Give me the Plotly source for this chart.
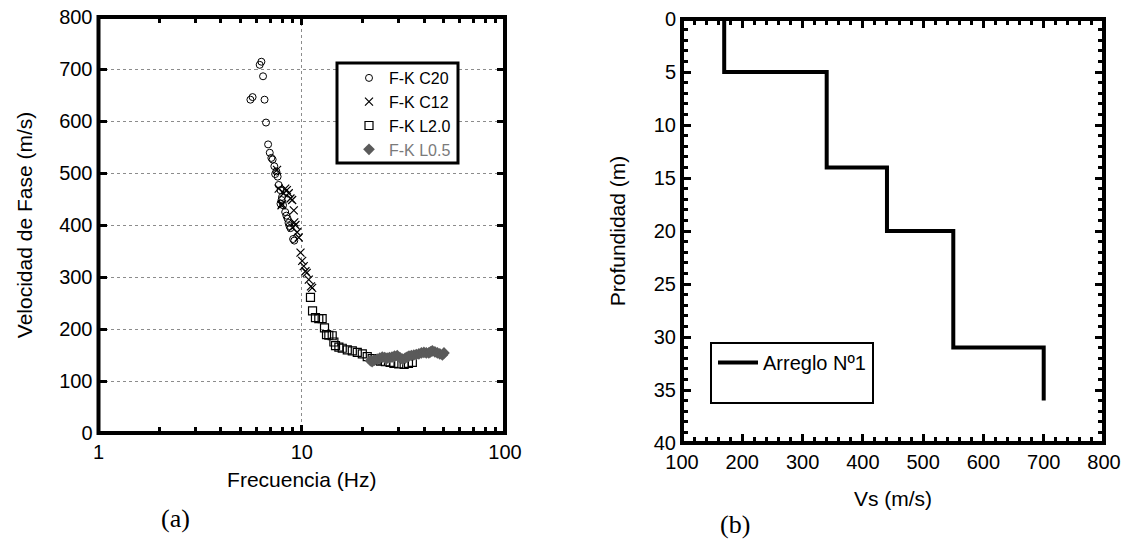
import plotly.graph_objects as go

# ---------------- data: dispersion curves (panel a) ----------------
c20_f = [5.59, 5.73, 6.21, 6.33, 6.45, 6.56, 6.67, 6.83, 6.96, 7.09, 7.19, 7.33, 7.50, 7.61,
         7.70, 7.86, 8.00, 7.86, 8.09, 8.29, 8.52, 8.61, 8.80, 9.07, 9.19, 7.40, 7.95, 8.40, 8.70]
c20_v = [641, 646, 708, 714, 686, 641, 597, 555, 539, 529, 526, 513, 503, 493,
         477, 467, 454, 441, 438, 425, 412, 404, 394, 373, 370, 498, 448, 418, 398]

c12_f = [7.56, 7.70, 7.95, 8.15, 8.29, 8.45, 8.63, 8.80, 8.97, 9.14, 9.19, 9.31, 9.49, 9.67,
         9.86, 10.05, 10.23, 10.43, 10.58, 10.83, 11.10, 11.25, 8.00, 9.00]
c12_v = [506, 470, 438, 461, 470, 467, 461, 451, 448, 428, 405, 400, 386, 376,
         347, 331, 321, 311, 308, 295, 282, 279, 440, 395]

l20_f = [11.04, 11.30, 11.68, 12.13, 12.60, 12.94, 13.24, 13.59, 14.12, 14.39, 14.66, 15.23,
         15.82, 16.75, 17.73, 18.76, 19.86, 21.0, 22.2, 23.5, 24.4, 25.8, 27.2, 28.4, 30.0,
         31.9, 33.5, 35.0]
l20_v = [261, 235, 222, 220, 220, 202, 189, 188, 187, 175, 168, 165,
         163, 160, 158, 155, 152, 147, 143, 140, 138, 137, 136, 134, 133,
         132, 134, 136]

l05_f = [21.8, 22.2, 22.8, 23.5, 24.2, 24.9, 25.6, 26.3, 27.0, 27.8, 28.6, 29.5, 30.4, 31.3,
         32.3, 33.0, 33.7, 34.6, 35.6, 36.6, 37.7, 38.8, 39.9, 41.0, 42.2, 43.0, 43.9,
         45.2, 46.5, 47.8, 49.2, 50.1]
l05_v = [139, 137, 140, 142, 144, 146, 145, 144, 145, 146, 148, 149, 145, 142,
         144, 146, 148, 149, 150, 151, 152, 154, 155, 154, 154, 156, 158,
         156, 154, 152, 150, 154]

# ---------------- data: Vs profile (panel b) ----------------
layer_vs = [170, 340, 440, 550, 700]
layer_top = [0, 5, 14, 20, 31]
layer_bot = [5, 14, 20, 31, 36]

prof_x, prof_y = [], []
for v, t, b in zip(layer_vs, layer_top, layer_bot):
    prof_x += [v, v]
    prof_y += [t, b]

W, H = 1126, 546
def px(x):
    return x / W
def py(y):
    return (H - y) / H

FONT = "Arial, Liberation Sans, sans-serif"
SERIF = "Liberation Serif, Times New Roman, serif"
GRID = "#8c8c8c"

fig = go.Figure()

fig.add_trace(go.Scatter(x=c20_f, y=c20_v, mode="markers", name="F-K C20",
                         marker=dict(symbol="circle-open", size=7, color="black",
                                     line=dict(width=1, color="black")),
                         xaxis="x", yaxis="y", legend="legend"))
fig.add_trace(go.Scatter(x=c12_f, y=c12_v, mode="markers", name="F-K C12",
                         marker=dict(symbol="x-thin-open", size=8, color="black",
                                     line=dict(width=1.2, color="black")),
                         xaxis="x", yaxis="y", legend="legend"))
fig.add_trace(go.Scatter(x=l20_f, y=l20_v, mode="markers", name="F-K L2.0",
                         marker=dict(symbol="square-open", size=8, color="black",
                                     line=dict(width=1.2, color="black")),
                         xaxis="x", yaxis="y", legend="legend"))
fig.add_trace(go.Scatter(x=l05_f, y=l05_v, mode="markers",
                         name="<span style='color:#7a7a7a'>F-K L0.5</span>",
                         marker=dict(symbol="diamond", size=9, color="#5a5a5a",
                                     line=dict(width=0)),
                         xaxis="x", yaxis="y", legend="legend"))

fig.add_trace(go.Scatter(x=prof_x, y=prof_y, mode="lines", name="Arreglo Nº1",
                         line=dict(color="black", width=4),
                         xaxis="x2", yaxis="y2", legend="legend2"))

axis_common = dict(showline=True, linecolor="black", linewidth=2, mirror="allticks",
                   ticks="inside", tickcolor="black", zeroline=False,
                   tickfont=dict(family=FONT, size=20, color="black"))

frame = dict(type="rect", line=dict(color="black", width=4), fillcolor="rgba(0,0,0,0)",
             x0=0, x1=1, y0=0, y1=1, layer="above")

fig.update_layout(
    width=W, height=H,
    margin=dict(l=0, r=0, t=0, b=0, autoexpand=False),
    paper_bgcolor="white", plot_bgcolor="white",
    showlegend=True,
    xaxis=dict(domain=[px(98.5), px(505)], type="log", range=[0, 2],
               tickvals=[1, 10, 100], ticktext=["1", "10", "100"],
               ticklen=8, tickwidth=3,
               minor=dict(tickvals=[2, 3, 4, 5, 6, 7, 8, 9, 20, 30, 40, 50, 60, 70, 80, 90],
                          ticks="inside", ticklen=6, tickwidth=3, tickcolor="black",
                          showgrid=False),
               showgrid=True, gridcolor=GRID, griddash="dot", gridwidth=1,
               title=dict(text="Frecuencia (Hz)", font=dict(family=FONT, size=21, color="black"),
                          standoff=10),
               anchor="y", **axis_common),
    yaxis=dict(domain=[py(433), py(17)], range=[0, 800], dtick=100,
               ticklen=8, tickwidth=3,
               showgrid=True, gridcolor=GRID, griddash="dot", gridwidth=1,
               title=dict(text="Velocidad de Fase (m/s)", font=dict(family=FONT, size=21, color="black"),
                          standoff=21),
               anchor="x", **axis_common),
    xaxis2=dict(domain=[px(682), px(1104)], range=[100, 800], dtick=100,
                ticklen=9, tickwidth=3,
                minor=dict(dtick=20, ticks="inside", ticklen=6, tickwidth=2.5, tickcolor="black",
                           showgrid=False),
                showgrid=False,
                title=dict(text="Vs (m/s)", font=dict(family=FONT, size=21, color="black"),
                           standoff=19),
                anchor="y2", **axis_common),
    yaxis2=dict(domain=[py(443), py(19)], range=[40, 0], dtick=5,
                ticklen=9, tickwidth=3,
                minor=dict(dtick=1, ticks="inside", ticklen=6, tickwidth=2.5, tickcolor="black",
                           showgrid=False),
                showgrid=False,
                title=dict(text="Profundidad (m)", font=dict(family=FONT, size=21, color="black"),
                           standoff=22),
                anchor="x2", **axis_common),
    legend=dict(x=px(349), y=py(61), xanchor="left", yanchor="top",
                bgcolor="rgba(0,0,0,0)", borderwidth=0,
                font=dict(family=FONT, size=16, color="black"),
                tracegroupgap=0, itemwidth=30),
    legend2=dict(x=px(713), y=py(343), xanchor="left", yanchor="top",
                 bgcolor="rgba(0,0,0,0)", borderwidth=0,
                 font=dict(family=FONT, size=20, color="black"),
                 itemwidth=40),
    shapes=[
        dict(frame, xref="x domain", yref="y domain"),
        dict(frame, xref="x2 domain", yref="y2 domain"),
        dict(type="rect", xref="paper", yref="paper",
             x0=px(337), x1=px(458), y0=py(163), y1=py(63),
             line=dict(color="black", width=3), fillcolor="white", layer="above"),
        dict(type="rect", xref="paper", yref="paper",
             x0=px(711), x1=px(873), y0=py(403), y1=py(343),
             line=dict(color="black", width=2), fillcolor="white", layer="above"),
    ],
    annotations=[
        dict(text="(a)", x=px(175), y=py(518), xref="paper", yref="paper", showarrow=False,
             xanchor="center", yanchor="middle",
             font=dict(family=SERIF, size=26, color="black")),
        dict(text="(b)", x=px(735), y=py(524), xref="paper", yref="paper", showarrow=False,
             xanchor="center", yanchor="middle",
             font=dict(family=SERIF, size=26, color="black")),
    ],
)

fig.write_html("out.html", config={"displayModeBar": False},
               post_script="document.body.style.margin='0';")
